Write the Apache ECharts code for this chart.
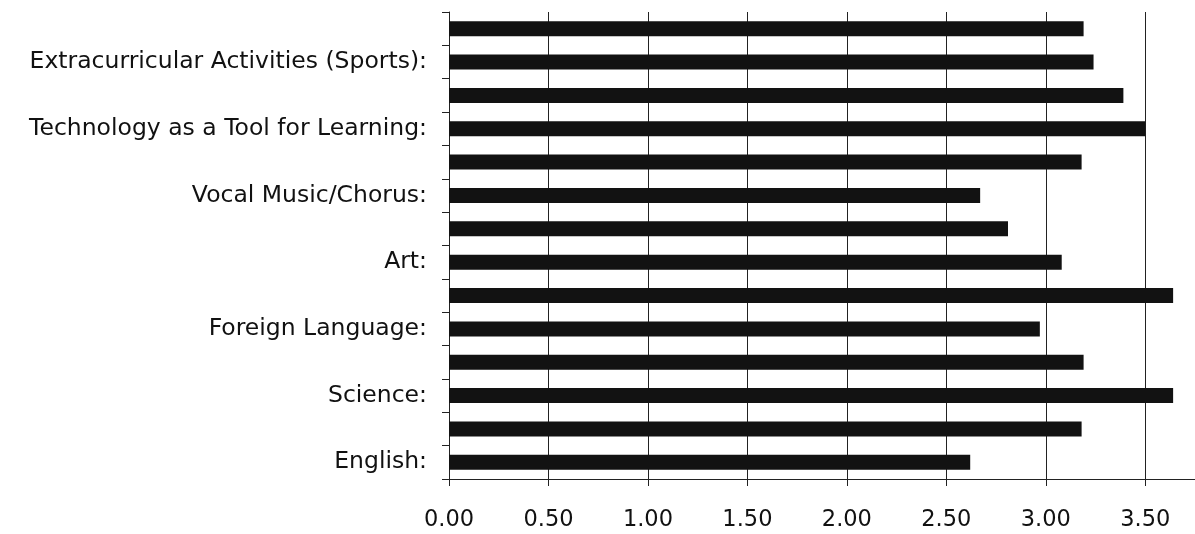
<!DOCTYPE html>
<html>
<head>
<meta charset="utf-8">
<script src="https://cdn.jsdelivr.net/npm/echarts@6/dist/echarts.min.js"></script>
<style>
html,body{margin:0;padding:0;background:#fff;}
#chart{width:1195px;height:534px;}
</style>
</head>
<body>
<div id="chart"></div>
<script>
// Categories from bottom to top (only every other one is labelled in the reference)
const categories = [
  "English:",
  "Mathematics:",
  "Science:",
  "Social Studies:",
  "Foreign Language:",
  "Physical Education:",
  "Art:",
  "Instrumental Music/Band:",
  "Vocal Music/Chorus:",
  "Library/Media:",
  "Technology as a Tool for Learning:",
  "Extracurricular Activities (Clubs):",
  "Extracurricular Activities (Sports):",
  "Extracurricular Activities (Other):"
];
const values = [2.62, 3.18, 3.64, 3.19, 2.97, 3.64, 3.08, 2.81, 2.67, 3.18, 3.50, 3.39, 3.24, 3.19];
const xTicks = [0, 0.5, 1.0, 1.5, 2.0, 2.5, 3.0, 3.5];

const chart = echarts.init(document.getElementById('chart'), null, {renderer: 'canvas'});
const font = 'DejaVu Sans';
chart.setOption({
  animation: false,
  backgroundColor: '#ffffff',
  grid: {left: 449, right: -2, top: 12, bottom: 55, containLabel: false},
  xAxis: {
    type: 'value',
    min: 0,
    max: 3.75,
    interval: 0.5,
    axisLine: {show: true, lineStyle: {color: '#222', width: 1}},
    axisTick: {show: true, inside: false, length: 7, lineStyle: {color: '#222'}},
    splitLine: {show: true, lineStyle: {color: '#222', width: 1}},
    axisLabel: {
      show: true,
      showMaxLabel: false,
      margin: 30,
      fontFamily: font,
      fontSize: 22.5,
      color: '#111',
      formatter: function (v) {
        return xTicks.some(t => Math.abs(t - v) < 1e-9) ? v.toFixed(2) : '';
      }
    }
  },
  yAxis: {
    type: 'category',
    data: categories,
    boundaryGap: true,
    axisLine: {show: true, lineStyle: {color: '#222', width: 1}},
    axisTick: {show: true, inside: false, length: 7, interval: 0, alignWithLabel: false, lineStyle: {color: '#222'}},
    splitLine: {show: false},
    axisLabel: {
      show: true,
      interval: 1,
      margin: 22,
      fontFamily: font,
      fontSize: 23.5,
      color: '#111'
    }
  },
  series: [{
    type: 'bar',
    data: values,
    barWidth: 15,
    itemStyle: {color: '#121212'},
    z: 3
  }]
});
</script>
</body>
</html>
